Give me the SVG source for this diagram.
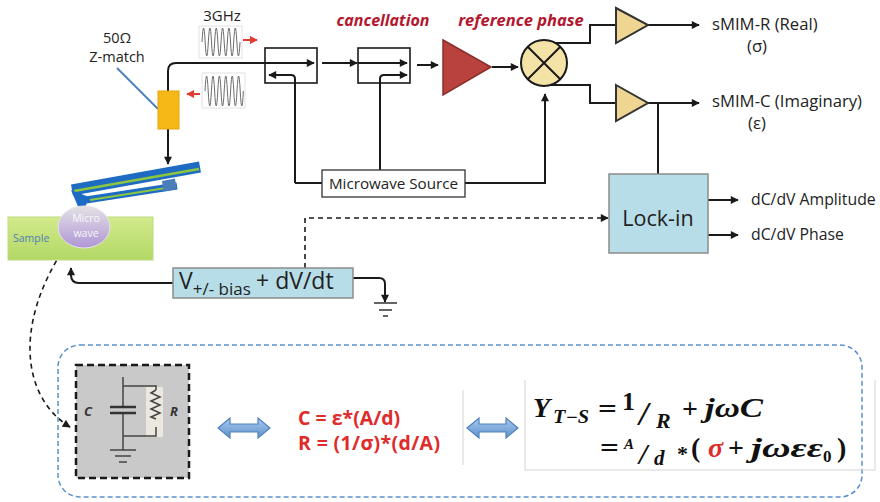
<svg xmlns="http://www.w3.org/2000/svg" width="880" height="502" viewBox="0 0 880 502">
  <style>
    .lbl { font-family: "Open Sans", "Liberation Sans", sans-serif; fill: #222; }
    .red { font-family: "Open Sans", "Liberation Sans", sans-serif; fill: #B3172E; font-weight: bold; font-style: italic; }
    .eqr { font-family: "Open Sans", "Liberation Sans", sans-serif; fill: #E02B2B; font-weight: bold; }
    .math { font-family: "Liberation Serif", "DejaVu Serif", serif; fill: #111; font-weight: bold; font-style: italic; }
    .mathu { font-family: "Liberation Serif", "DejaVu Serif", serif; fill: #111; font-weight: bold; }
    .wire { fill: none; stroke: #1a1a1a; stroke-width: 2; }
    .dash { fill: none; stroke: #1a1a1a; stroke-width: 1.6; stroke-dasharray: 5 4; }
    .box { fill: none; stroke: #1a1a1a; stroke-width: 1.6; }
    .cyan { fill: #B7DDE8; stroke: #8C8C8C; stroke-width: 1.5; }
    .amp { fill: #EFD592; stroke: #333; stroke-width: 2; }
    .sine { fill: none; stroke: #6d6d6d; stroke-width: 1; }
    .sinebox { fill: #fff; stroke: #e2e2e2; stroke-width: 1; }
    .dbl { fill: url(#blueArrow); stroke: #4F81BD; stroke-width: 1.2; }
  </style>
  <defs>
    <marker id="arr" viewBox="0 0 10 10" refX="9" refY="5" markerWidth="9" markerHeight="8" markerUnits="userSpaceOnUse" orient="auto-start-reverse">
      <path d="M0,0 L10,5 L0,10 z" fill="#1a1a1a"/>
    </marker>
    <marker id="arrRed" viewBox="0 0 10 10" refX="9" refY="5" markerWidth="8" markerHeight="8" markerUnits="userSpaceOnUse" orient="auto">
      <path d="M0,0 L10,5 L0,10 z" fill="#E23B30"/>
    </marker>
    <linearGradient id="sampleFill" x1="0" y1="0" x2="0" y2="1">
      <stop offset="0" stop-color="#D3EA8C"/>
      <stop offset="1" stop-color="#B2D865"/>
    </linearGradient>
    <linearGradient id="spotFill" x1="0" y1="0" x2="0" y2="1">
      <stop offset="0" stop-color="#E4E1E4"/>
      <stop offset="1" stop-color="#AF96D6"/>
    </linearGradient>
    <linearGradient id="blueArrow" x1="0" y1="0" x2="0" y2="1">
      <stop offset="0" stop-color="#A9C9EC"/>
      <stop offset="1" stop-color="#5F93CF"/>
    </linearGradient>
  </defs>

  <rect width="880" height="502" fill="#ffffff"/>

  <!-- connectors -->
  <g id="connectors">
    <!-- probe line up from Z-match into first coupler -->
    <path class="wire" d="M168,91 V71 Q168,63 176,63 H314" marker-end="url(#arr)"/>
    <!-- Z-match down to cantilever -->
    <path class="wire" d="M168,129 V164" marker-end="url(#arr)"/>
    <!-- reference return in coupler 1 -->
    <path class="wire" d="M295,183 V79 Q295,75 291,75 H269" marker-end="url(#arr)"/>
    <!-- coupler 1 to coupler 2 -->
    <path class="wire" d="M322,63 H357" marker-end="url(#arr)"/>
    <!-- through coupler 2 -->
    <path class="wire" d="M358,63 H407" marker-end="url(#arr)"/>
    <!-- cancellation feed in coupler 2 -->
    <path class="wire" d="M380,170 V79 Q380,75 384,75 H407" marker-end="url(#arr)"/>
    <!-- coupler 2 to amplifier -->
    <path class="wire" d="M417,65 H438" marker-end="url(#arr)"/>
    <!-- amplifier to mixer -->
    <path class="wire" d="M492,67 H518" marker-end="url(#arr)"/>
    <!-- source to coupler 1 / mixer -->
    <path class="wire" d="M322,183 H295"/>
    <path class="wire" d="M465,183 H545 V94" marker-end="url(#arr)"/>
    <!-- mixer outputs -->
    <path class="wire" d="M552,43 H590 V25 H616"/>
    <path class="wire" d="M550,85 H590 V103 H616"/>
    <path class="wire" d="M648,25 H699" marker-end="url(#arr)"/>
    <path class="wire" d="M648,103 H699" marker-end="url(#arr)"/>
    <!-- imaginary channel into lock-in -->
    <path class="wire" d="M658,103 V174" stroke="#333"/>
    <!-- lock-in outputs -->
    <path class="wire" d="M708,200 H738" stroke-width="1.6" marker-end="url(#arr)"/>
    <path class="wire" d="M708,235 H738" stroke-width="1.6" marker-end="url(#arr)"/>
    <!-- bias reference to lock-in -->
    <path class="dash" d="M305,268 V218 H608" marker-end="url(#arr)"/>
    <!-- bias to sample -->
    <path class="wire" d="M173,283 H79 Q71,283 71,275 V268" marker-end="url(#arr)"/>
    <!-- bias to ground -->
    <path class="wire" d="M353,278 H379 Q385,278 385,284 V302" marker-end="url(#arr)"/>
    <!-- Z-match pointer -->
    <path d="M117,68 L158,109" stroke="#4F81BD" stroke-width="2"/>
    <!-- tip-sample equivalent circuit link -->
    <path class="dash" d="M70,427 C22,398 8,318 80,226" stroke-width="1.5" marker-start="url(#arr)" marker-end="url(#arr)"/>
    <!-- signal indicators -->
    <path d="M243,40 H257" stroke="#E23B30" stroke-width="2" marker-end="url(#arrRed)"/>
    <path d="M200,94 H187" stroke="#E23B30" stroke-width="2" marker-end="url(#arrRed)"/>
  </g>

  <!-- source signal thumbnails -->
  <g id="wave-out">
    <rect class="sinebox" x="199" y="26" width="43" height="32"/>
    <path class="sine" d="M202,42 q1.58,-28 3.17,0 t3.17,0 t3.17,0 t3.17,0 t3.17,0 t3.17,0 t3.17,0 t3.17,0 t3.17,0 t3.17,0 t3.17,0 t3.17,0"/>
    <text class="lbl" x="222" y="21" font-size="15" text-anchor="middle">3GHz</text>
  </g>
  <g id="wave-back">
    <rect class="sinebox" x="202" y="73" width="43" height="35"/>
    <path class="sine" d="M205,91 q1.6,-30 3.2,0 t3.2,0 t3.2,0 t3.2,0 t3.2,0 t3.2,0 t3.2,0 t3.2,0 t3.2,0 t3.2,0 t3.2,0 t3.2,0"/>
  </g>

  <!-- impedance match -->
  <g id="z-match">
    <rect x="158" y="91" width="21" height="38" fill="#F6B817" stroke="#E2A40C" stroke-width="1"/>
    <text class="lbl" x="117" y="43" font-size="14.5" text-anchor="middle">50Ω</text>
    <text class="lbl" x="117" y="62" font-size="14.5" text-anchor="middle">Z-match</text>
  </g>

  <!-- directional couplers -->
  <g id="coupler-1"><rect class="box" x="265" y="48" width="52" height="35"/></g>
  <g id="coupler-2"><rect class="box" x="358" y="48" width="52" height="35"/></g>
  <text class="red" x="383" y="26" font-size="16" text-anchor="middle">cancellation</text>

  <!-- reference amplifier -->
  <g id="ref-amp">
    <polygon points="443,40 491,67 443,95" fill="#B9423F" stroke="#8A2E2B" stroke-width="1.5"/>
    <text class="red" x="521" y="26" font-size="16.5" text-anchor="middle">reference phase</text>
  </g>

  <!-- mixer -->
  <g id="mixer">
    <circle cx="544" cy="63" r="23" fill="#F4E3A6" stroke="#1a1a1a" stroke-width="2"/>
    <path d="M527.7,46.7 L560.3,79.3 M560.3,46.7 L527.7,79.3" stroke="#1a1a1a" stroke-width="2"/>
  </g>

  <!-- output amplifiers -->
  <g id="amp-real">
    <polygon class="amp" points="616,8 648,25 616,43"/>
    <text class="lbl" x="712" y="30" font-size="16.7">sMIM-R (Real)</text>
    <text class="lbl" x="757" y="52" font-size="16.7" text-anchor="middle">(σ)</text>
  </g>
  <g id="amp-imag">
    <polygon class="amp" points="616,85 648,103 616,121"/>
    <text class="lbl" x="712" y="107" font-size="16.7">sMIM-C (Imaginary)</text>
    <text class="lbl" x="757" y="129" font-size="16.7" text-anchor="middle">(ε)</text>
  </g>

  <!-- microwave source -->
  <g id="microwave-source">
    <rect x="322" y="170" width="143" height="27" fill="#fff" stroke="#333" stroke-width="1.3"/>
    <text class="lbl" x="393.5" y="189" font-size="15.2" text-anchor="middle">Microwave Source</text>
  </g>

  <!-- lock-in amplifier -->
  <g id="lock-in">
    <rect class="cyan" x="609" y="174" width="99" height="79"/>
    <text class="lbl" x="658" y="226" font-size="21.5" text-anchor="middle">Lock-in</text>
    <text class="lbl" x="751" y="205" font-size="15.8">dC/dV Amplitude</text>
    <text class="lbl" x="751" y="240" font-size="15.8">dC/dV Phase</text>
  </g>

  <!-- bias source -->
  <g id="bias">
    <rect class="cyan" x="173" y="268" width="180" height="30"/>
    <text class="lbl" x="179" y="289" font-size="23">V<tspan font-size="17" dy="6">+/- bias</tspan></text>
    <text class="lbl" x="256" y="289" font-size="23">+ dV/dt</text>
  </g>

  <!-- ground -->
  <g id="ground" stroke="#333" stroke-width="1.5">
    <path d="M374,303 H397 M379,310 H392 M383,316 H388"/>
  </g>

  <!-- sample with probe -->
  <g id="sample">
    <rect x="8" y="217" width="145" height="43" fill="url(#sampleFill)" stroke="#BEDB83" stroke-width="1"/>
    <text x="13" y="242" font-family="Open Sans, Liberation Sans, sans-serif" font-size="10.5" fill="#4F7FB8">Sample</text>
  </g>
  <g id="cantilever">
    <path d="M72,190 L200,167" stroke="#1E6BC4" stroke-width="11"/>
    <path d="M74,191 L199,169" stroke="#8CC63F" stroke-width="2.5"/>
    <path d="M86,200 L177,186" stroke="#1E6BC4" stroke-width="7"/>
    <path d="M90,200 L172,187" stroke="#8CC63F" stroke-width="2"/>
    <polygon points="162,181 175,178.5 176.5,189 163.5,191.5" fill="#4A7EBB"/>
    <polygon points="71,190 89,197 82,216" fill="#1E6BC4"/>
  </g>
  <g id="spot">
    <ellipse cx="84" cy="227" rx="26" ry="21" fill="url(#spotFill)" stroke="#E6E3EA" stroke-width="1"/>
    <text x="86" y="222" font-family="Open Sans, Liberation Sans, sans-serif" font-size="10.5" fill="#fff" fill-opacity="0.9" text-anchor="middle">Micro</text>
    <text x="86" y="237" font-family="Open Sans, Liberation Sans, sans-serif" font-size="10.5" fill="#fff" fill-opacity="0.9" text-anchor="middle">wave</text>
  </g>

  <!-- equivalent circuit panel -->
  <g id="model-panel">
    <rect x="58" y="345" width="804" height="152" rx="22" ry="22" fill="none" stroke="#5B8FCB" stroke-width="1.5" stroke-dasharray="5 3"/>
  </g>
  <g id="rc-circuit">
    <rect x="76" y="365" width="113" height="113" fill="#C9C9C9" stroke="#1a1a1a" stroke-width="2.5" stroke-dasharray="7 4"/>
    <rect x="146" y="387" width="17" height="50" fill="#ECE8DF"/>
    <g stroke="#444" stroke-width="1.5" fill="none">
      <path d="M123,377 V407 M123,413 V450"/>
      <path d="M123,386 H156 V390 M123,436 H156 V427"/>
      <path d="M156,390 l-5,3 l9,4 l-9,4 l9,4 l-9,4 l9,4 l-9,4 l5,2"/>
      <path d="M110,450 H136 M115,456 H131 M119,462 H127"/>
    </g>
    <path d="M110,407 H136 M110,413 H136" stroke="#333" stroke-width="2.5"/>
    <text x="88" y="416" font-family="Open Sans, Liberation Sans, sans-serif" font-size="13" font-weight="bold" font-style="italic" fill="#333" text-anchor="middle">C</text>
    <text x="174" y="416" font-family="Open Sans, Liberation Sans, sans-serif" font-size="13" font-weight="bold" font-style="italic" fill="#333" text-anchor="middle">R</text>
  </g>
  <g id="relation-1">
    <polygon class="dbl" points="218,428 230,418 230,424 258,424 258,418 270,428 258,438 258,432 230,432 230,438"/>
  </g>
  <g id="material-eqs">
    <text class="eqr" x="298" y="425" font-size="19.5">C = ε*(A/d)</text>
    <text class="eqr" x="298" y="450" font-size="19.5" textLength="142" lengthAdjust="spacing">R = (1/σ)*(d/A)</text>
  </g>
  <path d="M463,390 V465" stroke="#d4d4d4" stroke-width="1"/>
  <g id="relation-2">
    <polygon class="dbl" points="467,428 479,418 479,424 506,424 506,418 518,428 506,438 506,432 479,432 479,438"/>
  </g>
  <g id="admittance">
    <path d="M525,380 V470 H875 V380" fill="none" stroke="#d4d4d4" stroke-width="1"/>
    <text class="math" x="533" y="417" font-size="28">Y</text>
    <text class="math" x="553" y="423" font-size="18" textLength="36" lengthAdjust="spacingAndGlyphs">T−S</text>
    <text class="mathu" x="598" y="418" font-size="28" textLength="19" lengthAdjust="spacingAndGlyphs">=</text>
    <text class="mathu" x="622" y="410" font-size="26">1</text>
    <text class="mathu" x="639" y="425" font-size="34" font-style="italic">/</text>
    <text class="math" x="656" y="428" font-size="22">R</text>
    <text class="mathu" x="682" y="418" font-size="28">+</text>
    <text class="math" x="705" y="417" font-size="28" textLength="58" lengthAdjust="spacingAndGlyphs">jωC</text>
    <text class="mathu" x="600" y="457" font-size="28" textLength="19" lengthAdjust="spacingAndGlyphs">=</text>
    <text class="math" x="624" y="449" font-size="15">A</text>
    <text class="mathu" x="639" y="464" font-size="30" font-style="italic">/</text>
    <text class="math" x="654" y="465" font-size="21">d</text>
    <text class="mathu" x="677" y="461" font-size="22">*</text>
    <text class="mathu" x="691" y="457" font-size="28">(</text>
    <text class="math" x="708" y="457" font-size="28" style="fill:#E02B2B">σ</text>
    <text class="mathu" x="728" y="457" font-size="28">+</text>
    <text class="math" x="751" y="457" font-size="28" textLength="72" lengthAdjust="spacingAndGlyphs">jωεε</text>
    <text class="mathu" x="823" y="462" font-size="17">0</text>
    <text class="mathu" x="837" y="457" font-size="28">)</text>
  </g>
</svg>
